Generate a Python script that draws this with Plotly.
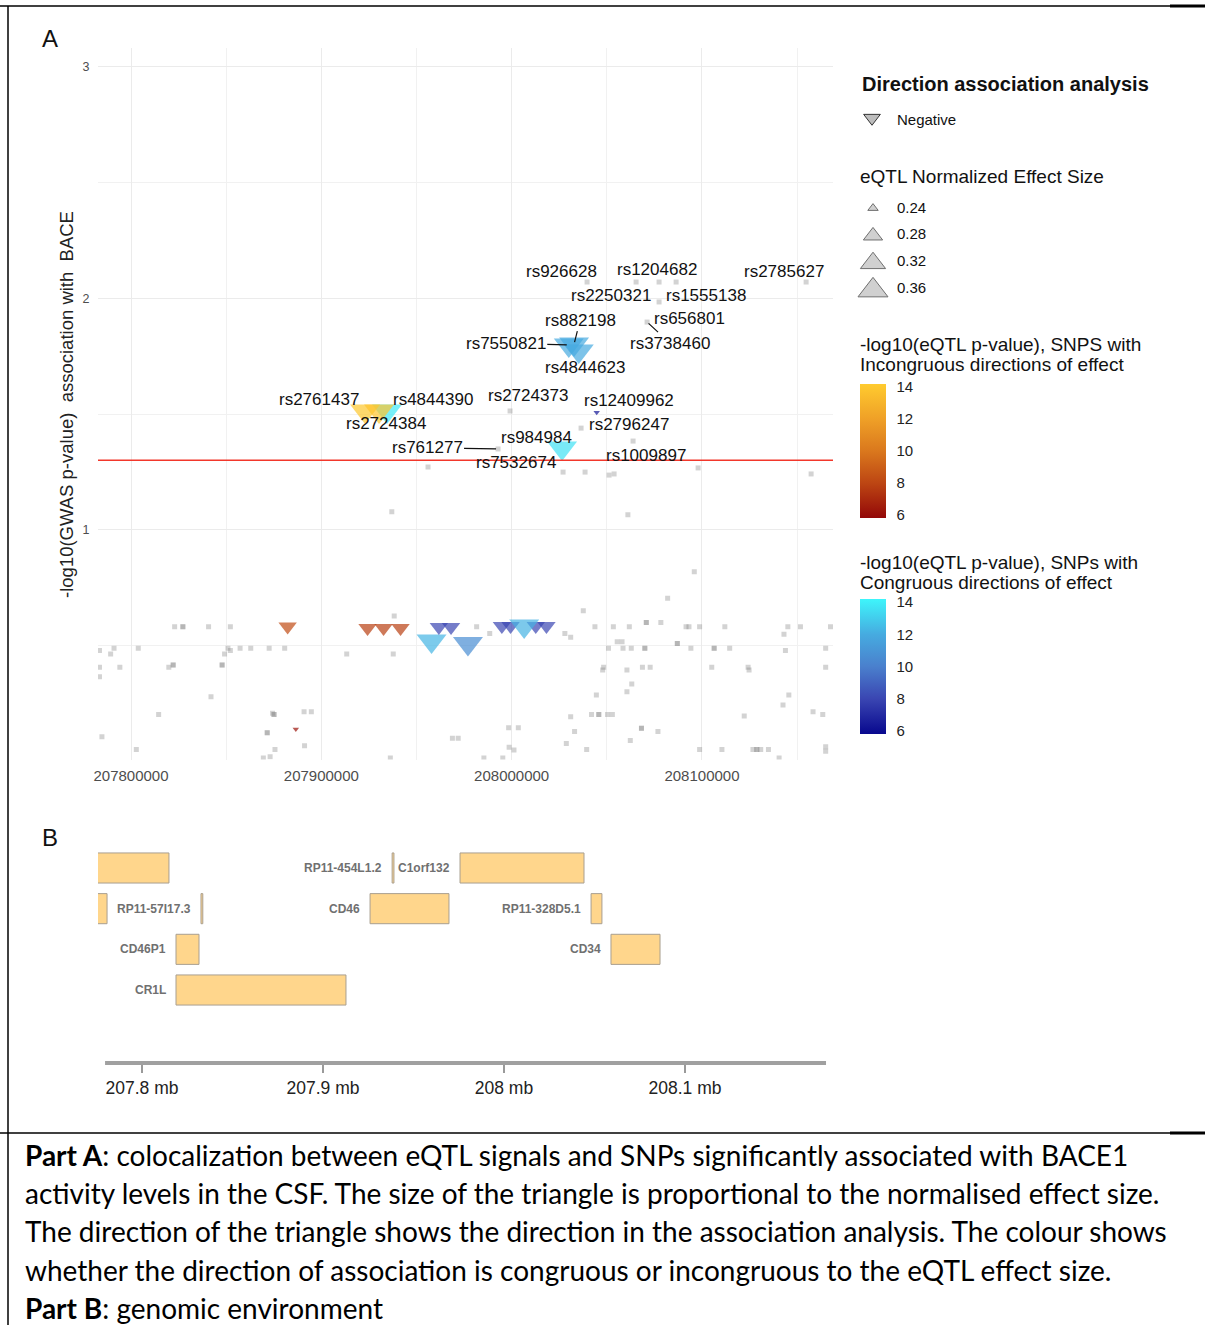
import numpy as np
import plotly.graph_objects as go

W, H = 1205, 1325
def PX(x): return x / W
def PY(y): return 1 - y / H

# ------------------------------------------------------------------ Panel A data
# background SNPs (grey squares): genomic position (bp) and -log10(GWAS p)
bg_pos = [208039630, 208065380, 208077460, 208086400, 208154710, 208077460, 208071160,
          207999170, 208036480, 208063800, 207992860, 207956070, 208027020, 208038580,
          208051190, 208053820, 208097960, 208157340,
          207937030, 208061070, 208095960,
          207822920, 207827250, 207827250, 207840750, 207852210, 207981600, 208043750,
          208053430, 208061830, 208091630, 208093160, 208098760, 208112010, 208145120,
          208151740, 208167530,
          207988480, 208027960, 208031010, 208070750, 208070750, 208078390, 208143080,
          207938300, 208037640, 208081950,
          207783440, 207791090, 207789300, 207803820, 207850940, 207849160, 207852210,
          207857310, 207862910, 207872590, 207880740, 207913340, 207937790, 208050880,
          208055460, 208058010, 208058520, 208062850, 208069980, 208069980, 208087050,
          208087050, 208094180, 208106400, 208106400, 208114550, 208143850, 208164990,
          207783440, 207794140, 207819870, 207822160, 207822160, 207847880, 207847880,
          208047820, 208048330, 208060560, 208068710, 208072780, 208105130, 208124230,
          208124740, 208164990,
          207783440, 208063110, 208060560, 208044510, 207842030, 208145630, 208142570,
          207814520, 207874370, 207875140, 207875140, 207890930, 207894750, 208031010,
          208041970, 208045790, 208045790, 208050370, 208052920, 208122200, 208158360,
          208163460,
          207784720, 207871570, 207871570, 207998410, 208003510, 208033050, 208068200,
          208068200, 208076860, 207968870, 207971920, 208062340, 208028720,
          207802800, 207875650, 207891180, 207998670, 208001210, 208039420, 208098760,
          208110480, 208126780, 208128820, 208128820, 208130860, 208134930, 208164990,
          208164990,
          207869530, 207873100, 207936260, 207985420, 207995350, 208140530]
bg_logp = [2.071, 2.071, 2.071, 2.071, 2.071, 1.985, 1.898,
           1.514, 1.440, 1.384, 1.350, 1.272, 1.250, 1.250,
           1.237, 1.242, 1.268, 1.242,
           1.079, 1.066, 0.820,
           0.582, 0.582, 0.582, 0.582, 0.582, 0.582, 0.582,
           0.582, 0.582, 0.582, 0.582, 0.582, 0.582, 0.582,
           0.582, 0.582,
           0.553, 0.553, 0.536, 0.600, 0.600, 0.600, 0.550,
           0.628, 0.651, 0.705,
           0.479, 0.489, 0.464, 0.489, 0.489, 0.464, 0.479,
           0.489, 0.489, 0.489, 0.489, 0.464, 0.464, 0.489,
           0.517, 0.517, 0.489, 0.489, 0.489, 0.489, 0.510,
           0.510, 0.489, 0.489, 0.489, 0.489, 0.479, 0.489,
           0.407, 0.407, 0.407, 0.417, 0.417, 0.417, 0.417,
           0.395, 0.407, 0.395, 0.407, 0.407, 0.407, 0.407,
           0.395, 0.407,
           0.366, 0.335, 0.301, 0.287, 0.280, 0.287, 0.244,
           0.203, 0.208, 0.203, 0.203, 0.215, 0.215, 0.193,
           0.203, 0.203, 0.203, 0.203, 0.203, 0.196, 0.215,
           0.203,
           0.107, 0.124, 0.124, 0.146, 0.146, 0.129, 0.143,
           0.143, 0.129, 0.100, 0.100, 0.091, 0.078,
           0.052, 0.052, 0.068, 0.061, 0.049, 0.052, 0.052,
           0.052, 0.052, 0.052, 0.052, 0.052, 0.052, 0.064,
           0.044,
           0.015, 0.020, 0.015, 0.015, 0.015, 0.015]

# eQTL SNPs with congruous direction of effect
cong_pos = [207934530, 207957910, 207961750, 207968160, 207977040, 207994860, 207999430,
            208012670, 208018290, 208006570, 208026490, 208030010, 208032800, 208035270,
            208044680]
cong_logp = [1.514, 0.520, 0.581, 0.581, 0.509, 0.585, 0.585,
             0.585, 0.585, 0.585, 1.354, 1.799, 1.803, 1.773,
             1.508]
cong_es = [0.36, 0.36, 0.275, 0.275, 0.36, 0.275, 0.275,
           0.275, 0.275, 0.36, 0.36, 0.36, 0.36, 0.36,
           0.23]
cong_eqtl = [13.8, 12.3, 8.0, 8.0, 10.6, 8.0, 8.0,
             8.0, 8.0, 12.2, 13.6, 11.9, 11.9, 11.9,
             6.3]

# eQTL SNPs with incongruous direction of effect
inc_pos = [207922970, 207930320, 207882300, 207924280, 207932690, 207941620, 207886600]
inc_logp = [1.514, 1.514, 0.583, 0.576, 0.576, 0.576, 0.139]
inc_es = [0.36, 0.36, 0.275, 0.275, 0.275, 0.275, 0.23]
inc_eqtl = [14.0, 13.9, 8.2, 7.8, 7.8, 7.8, 6.2]

# labelled SNPs
lab_snp = ["rs926628", "rs2250321", "rs1204682", "rs1555138", "rs2785627", "rs656801",
           "rs3738460", "rs882198", "rs7550821", "rs4844623", "rs2761437", "rs4844390",
           "rs2724384", "rs2724373", "rs12409962", "rs2796247", "rs984984", "rs761277",
           "rs7532674", "rs1009897"]
lab_pos = [208039630, 208065380, 208077460, 208086400, 208154710, 208077460,
           208071160, 208032800, 208030010, 208035270, 207922970, 207934530,
           207930320, 207999170, 208044680, 208036480, 208026490, 207992860,
           208027020, 208063800]
lab_logp = [2.071, 2.071, 2.071, 2.071, 2.071, 1.985,
            1.898, 1.803, 1.799, 1.773, 1.514, 1.514,
            1.514, 1.514, 1.508, 1.440, 1.354, 1.350,
            1.250, 1.384]
# label placement (pixel offsets) and whether a leader segment is drawn
lab_dx = [-26, -25, -2, 30, -22, 30, 23, 6, -63, 6, -46, 46, 7, 18, 32, 48, -26, -71, -47, 13]
lab_dy = [-11, 13, -13, 13, -11, 17, 21, -24, -2, 16, -11, -11, 13, -15, -12, -4, -11, -1, -10, 14]
lab_seg = [0, 0, 0, 0, 0, 0, 1, 1, 1, 0, 0, 0, 0, 0, 0, 0, 0, 1, 0, 0]

size_breaks = [0.24, 0.28, 0.32, 0.36]
colorbar_ticks = [6, 8, 10, 12, 14]
gwas_threshold = 0.05

# ------------------------------------------------------------------ Panel B data (mb)
gene_name = ["", "RP11-454L1.2", "C1orf132", "", "RP11-57I17.3", "CD46", "RP11-328D5.1",
             "CD46P1", "CD34", "CR1L"]
gene_start = [207.7600, 207.9382, 207.9757, 207.7700, 207.8326, 207.9260, 208.0481,
              207.8188, 208.0591, 207.8188]
gene_end = [207.8149, 207.9392, 208.0442, 207.7807, 207.8336, 207.9696, 208.0541,
            207.8315, 208.0862, 207.9127]
gene_row = [1, 1, 1, 2, 2, 2, 2, 3, 3, 4]
mb_ticks = [207.8, 207.9, 208.0, 208.1]

# ------------------------------------------------------------------ styles
def tri_size(es):
    es = np.asarray(es, dtype=float)
    return 26.0 * np.sqrt(np.clip((es - 0.2236) / 0.1364, 0, None))

CMIN, CMAX = 5.8, 14.2
def norm(v): return (v - CMIN) / (CMAX - CMIN)
inc_scale = [[0, "#930808"], [norm(8), "#BD4613"], [norm(10), "#DA781D"],
             [norm(12), "#EFA027"], [1, "#FFCB2F"]]
cong_scale = [[0, "#08088E"], [norm(8), "#3A46B2"], [norm(10), "#4A80CD"],
              [norm(12), "#46ABE0"], [1, "#3EF5FB"]]

FONT = "Liberation Sans, Arial, sans-serif"

fig = go.Figure()

# background SNPs
fig.add_trace(go.Scatter(
    x=bg_pos, y=bg_logp, mode="markers", xaxis="x", yaxis="y",
    marker=dict(symbol="square", size=5, color="rgba(128,128,128,0.35)", line=dict(width=0)),
    hoverinfo="skip", showlegend=False))

cb_common = dict(xref="paper", yref="paper", xanchor="left", yanchor="middle",
                 lenmode="pixels", thickness=26, xpad=0, ypad=0, outlinewidth=0,
                 tickvals=colorbar_ticks, ticks="outside", ticklen=8,
                 tickcolor="rgba(0,0,0,0)",
                 tickfont=dict(family=FONT, size=15, color="#222"), title=dict(text=""))

CB_CONG = dict(center=666.5, length=135)
CB_INC = dict(center=451, length=134)

fig.add_trace(go.Scatter(
    x=cong_pos, y=cong_logp, mode="markers", xaxis="x", yaxis="y",
    marker=dict(symbol="triangle-down", size=tri_size(cong_es), color=cong_eqtl,
                colorscale=cong_scale, cmin=CMIN, cmax=CMAX, line=dict(width=0),
                showscale=True,
                colorbar=dict(x=PX(860), y=PY(CB_CONG["center"]), len=CB_CONG["length"],
                              **cb_common)),
    showlegend=False))

fig.add_trace(go.Scatter(
    x=inc_pos, y=inc_logp, mode="markers", xaxis="x", yaxis="y",
    marker=dict(symbol="triangle-down", size=tri_size(inc_es), color=inc_eqtl,
                colorscale=inc_scale, cmin=CMIN, cmax=CMAX, line=dict(width=0),
                showscale=True,
                colorbar=dict(x=PX(860), y=PY(CB_INC["center"]), len=CB_INC["length"],
                              **cb_common)),
    showlegend=False))

# legend keys (auxiliary axis in pixel units)
fig.add_trace(go.Scatter(
    x=[872], y=[118], mode="markers", xaxis="x3", yaxis="y3",
    marker=dict(symbol="triangle-down", size=14.5, color="#BDBDBD",
                line=dict(color="#333", width=1)),
    cliponaxis=False, hoverinfo="skip", showlegend=False))
leg_sizes = tri_size(size_breaks)
leg_y = [207 + 26.7 * i + s / 8 for i, s in enumerate(leg_sizes)]
fig.add_trace(go.Scatter(
    x=[873] * len(size_breaks), y=leg_y, mode="markers", xaxis="x3", yaxis="y3",
    marker=dict(symbol="triangle-up", size=leg_sizes, color="#BDBDBD",
                line=dict(color="#333", width=1)),
    cliponaxis=False, hoverinfo="skip", showlegend=False))

# genes (panel B)
fig.add_trace(go.Bar(
    x=[e - s for s, e in zip(gene_start, gene_end)], base=gene_start, y=gene_row,
    orientation="h", width=0.74, xaxis="x2", yaxis="y2",
    marker=dict(color="#FFD68C", line=dict(color="#A99F90", width=1)),
    hoverinfo="skip", showlegend=False))

annotations = []
# SNP labels
for name, x, y, dx, dy, seg in zip(lab_snp, lab_pos, lab_logp, lab_dx, lab_dy, lab_seg):
    if seg:
        annotations.append(dict(x=x, y=y, xref="x", yref="y", text=name, showarrow=True,
                                ax=dx, ay=dy, arrowhead=0, arrowwidth=1.2, arrowcolor="#111",
                                standoff=2, font=dict(family=FONT, size=17, color="#111")))
    else:
        annotations.append(dict(x=x, y=y, xref="x", yref="y", text=name, showarrow=False,
                                xshift=dx, yshift=-dy,
                                font=dict(family=FONT, size=17, color="#111")))

# gene labels
for name, s, r in zip(gene_name, gene_start, gene_row):
    if name:
        annotations.append(dict(x=s, y=r, xref="x2", yref="y2", text=name, showarrow=False,
                                xanchor="right", xshift=-8,
                                font=dict(family="Liberation Sans Narrow, Arial Narrow, sans-serif",
                                          size=12, color="#707070", weight="bold")))

def txt(x, y, text, size, color="#111", anchor="left", bold=False, family=FONT, angle=0):
    annotations.append(dict(x=PX(x), y=PY(y), xref="paper", yref="paper", text=text,
                            showarrow=False, xanchor=anchor, yanchor="middle", textangle=angle,
                            font=dict(family=family, size=size, color=color,
                                      weight="bold" if bold else "normal")))

txt(50, 38, "A", 24, anchor="center")
txt(50, 837, "B", 24, anchor="center")
txt(67, 405, "-log10(GWAS p-value)\u00a0\u00a0association with\u00a0\u00a0BACE", 18.5,
    color="#222", anchor="center", angle=-90)

txt(860, 84, "Direction association analysis", 20, bold=True)
txt(895, 120, "Negative", 15)
txt(858, 176, "eQTL Normalized Effect Size", 19)
for i, b in enumerate(size_breaks):
    txt(895, 207 + 26.7 * i, f"{b:.2f}", 15)
txt(858, 345, "-log10(eQTL p-value), SNPS with", 19)
txt(858, 365, "Incongruous directions of effect", 19)
txt(858, 562, "-log10(eQTL p-value), SNPs with", 19)
txt(858, 582, "Congruous directions of effect", 19)

CAP = "Lato, Open Sans, sans-serif"
cap_lines = ["<b>Part A</b>: colocalization between eQTL signals and SNPs significantly associated with BACE1",
             "activity levels in the CSF. The size of the triangle is proportional to the normalised effect size.",
             "The direction of the triangle shows the direction in the association analysis. The colour shows",
             "whether the direction of association is congruous or incongruous to the eQTL effect size.",
             "<b>Part B</b>: genomic environment"]
for i, line in enumerate(cap_lines):
    txt(23, 1155 + 38.2 * i, line, 28, color="#000", family=CAP)

shapes = [
    dict(type="line", xref="x domain", yref="y", x0=0, x1=1,
         y0=-np.log10(gwas_threshold), y1=-np.log10(gwas_threshold),
         line=dict(color="#F2372B", width=1.5), layer="above"),
    dict(type="line", xref="x2", yref="paper", x0=207.7796, x1=208.1779,
         y0=PY(1063), y1=PY(1063), line=dict(color="#A0A0A0", width=4)),
    dict(type="line", xref="paper", yref="paper", x0=0, x1=1, y0=PY(6), y1=PY(6),
         line=dict(color="#000", width=1.5)),
    dict(type="line", xref="paper", yref="paper", x0=PX(1170), x1=1, y0=PY(6), y1=PY(6),
         line=dict(color="#000", width=3)),
    dict(type="line", xref="paper", yref="paper", x0=0, x1=1, y0=PY(1133), y1=PY(1133),
         line=dict(color="#000", width=1.5)),
    dict(type="line", xref="paper", yref="paper", x0=PX(1170), x1=1, y0=PY(1133), y1=PY(1133),
         line=dict(color="#000", width=3)),
    dict(type="line", xref="paper", yref="paper", x0=PX(8), x1=PX(8), y0=PY(6), y1=0,
         line=dict(color="#000", width=1.5)),
]

# white tick marks inside the colour bars (ggplot style)
for cb in (CB_CONG, CB_INC):
    top = cb["center"] - cb["length"] / 2
    for v in colorbar_ticks:
        yy = top + (CMAX - v) / (CMAX - CMIN) * cb["length"]
        for x0, x1 in ((860, 865), (881, 886)):
            shapes.append(dict(type="line", xref="paper", yref="paper",
                               x0=PX(x0), x1=PX(x1), y0=PY(yy), y1=PY(yy),
                               line=dict(color="white", width=1)))

grid = "#EBEBEB"
fig.update_layout(
    width=W, height=H, margin=dict(l=0, r=0, t=0, b=0, autoexpand=False),
    paper_bgcolor="white", plot_bgcolor="white",
    font=dict(family=FONT),
    showlegend=False,
    xaxis=dict(domain=[PX(98), PX(833)], range=[207782660, 208168840],
               tickvals=[207800000, 207900000, 208000000, 208100000],
               ticktext=[str(v) for v in [207800000, 207900000, 208000000, 208100000]],
               showgrid=True, gridcolor=grid, gridwidth=1.1, zeroline=False, showline=False,
               ticks="outside", ticklen=2, tickcolor="rgba(0,0,0,0)",
               tickfont=dict(size=15, color="#4D4D4D"), automargin=False,
               minor=dict(tickvals=[207850000, 207950000, 208050000, 208150000],
                          showgrid=True, gridcolor="#F1F1F1", gridwidth=1)),
    yaxis=dict(domain=[PY(759.6), PY(48)], range=[0.008, 3.082],
               tickvals=[1, 2, 3], showgrid=True, gridcolor=grid, gridwidth=1.1,
               zeroline=False, showline=False, automargin=False,
               ticks="outside", ticklen=5, tickcolor="rgba(0,0,0,0)",
               tickfont=dict(size=12.5, color="#4D4D4D"),
               minor=dict(tickvals=[0.5, 1.5, 2.5], showgrid=True, gridcolor="#F1F1F1",
                          gridwidth=1)),
    xaxis2=dict(domain=[PX(98), PX(830)], range=[207.7757, 208.1801], anchor="y2",
                tickvals=mb_ticks, ticktext=[f"{v:g} mb" for v in mb_ticks],
                showgrid=False, zeroline=False, showline=False, automargin=False,
                ticks="outside", ticklen=9, tickwidth=2, tickcolor="#9A9A9A",
                tickfont=dict(size=17.5, color="#222")),
    yaxis2=dict(domain=[PY(1063), PY(845)], range=[5.795, 0.4345], anchor="x2",
                visible=False),
    xaxis3=dict(domain=[PX(843), PX(903)], range=[843, 903], visible=False, anchor="y3"),
    yaxis3=dict(domain=[0, 1], range=[H, 0], visible=False, anchor="x3"),
    annotations=annotations, shapes=shapes,
)

fig.write_html("out.html")
